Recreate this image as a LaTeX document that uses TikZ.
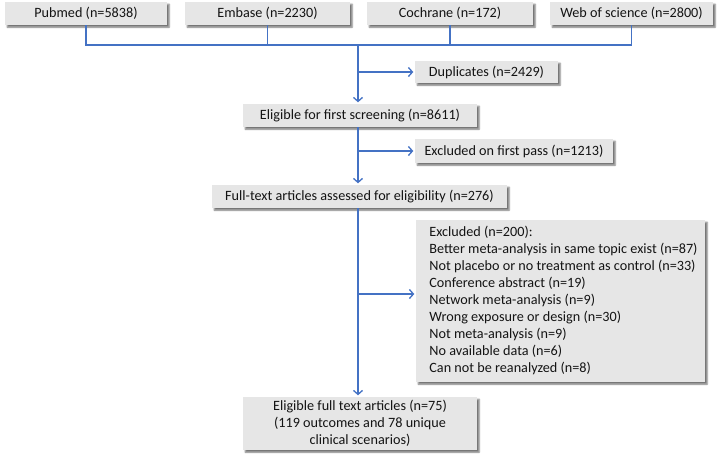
\documentclass[tikz,border=0pt]{standalone}
\usepackage{fontspec}
\setmainfont{Carlito}
\usetikzlibrary{arrows.meta,shadows.blur}
\definecolor{boxgray}{HTML}{E6E6E6}
\definecolor{arrowblue}{HTML}{4472C4}
\definecolor{txt}{HTML}{141414}
\begin{document}
\begin{tikzpicture}[x=1pt,y=-1pt,
  box/.style={fill=boxgray, text=txt, inner sep=0pt,
    blur shadow={shadow xshift=2.2pt, shadow yshift=-2.2pt, shadow blur radius=1.5pt, shadow opacity=55},
    font=\fontsize{14.2}{17}\selectfont, anchor=center},
  conn/.style={draw=arrowblue, line width=1.3pt},
  arr/.style={conn, -{Straight Barb[length=4pt,width=9pt]}, shorten >=1.5pt}]
\useasboundingbox (0,0) rectangle (720,456);

\node[box, minimum width=162pt, minimum height=23pt] (pub) at (86,13.5) {Pubmed (n=5838)};
\node[box, minimum width=165pt, minimum height=23pt] (emb) at (267.5,13.5) {Embase (n=2230)};
\node[box, minimum width=166pt, minimum height=23pt] (coch) at (450,13.5) {Cochrane (n=172)};
\node[box, minimum width=163pt, minimum height=23pt] (wos) at (631.5,13.5) {Web of science (n=2800)};

\node[box, minimum width=143pt, minimum height=22pt] (dup) at (486.5,72) {Duplicates (n=2429)};
\node[box, minimum width=234pt, minimum height=23pt] (elig) at (360,115.5) {Eligible for first screening (n=8611)};
\node[box, minimum width=198pt, minimum height=24pt] (exc1) at (514,151) {Excluded on first pass (n=1213)};
\node[box, minimum width=295pt, minimum height=23pt] (ft) at (359.5,196.5) {Full-text articles assessed for eligibility (n=276)};
\node[box, minimum width=289pt, minimum height=162pt] (exc2) at (560.5,301) {\begin{tabular}{@{\hspace{6pt}}l@{}}Excluded (n=200):\\
Better meta-analysis in same topic exist (n=87)\\
Not placebo or no treatment as control (n=33)\\
Conference abstract (n=19)\\
Network meta-analysis (n=9)\\
Wrong exposure or design (n=30)\\
Not meta-analysis (n=9)\\
No available data (n=6)\\
Can not be reanalyzed (n=8)\end{tabular}};
\node[box, minimum width=234pt, minimum height=53pt, align=center] (fin) at (360,423.5) {Eligible full text articles (n=75)\\(119 outcomes and 78 unique\\clinical scenarios)};

\coordinate (t0) at (358,45);
\coordinate (b3) at (358,294);
\draw[conn] (pub.south) -- (pub.south |- t0) -- (wos.south |- t0) -- (wos.south);
\draw[conn] (emb.south) -- (emb.south |- t0);
\draw[conn] (coch.south) -- (coch.south |- t0);
\draw[arr] (t0) -- (t0 |- elig.north);
\draw[arr] (t0 |- dup.west) -- (dup.west);
\draw[arr] (elig.south -| t0) -- (ft.north -| t0);
\draw[arr] (t0 |- exc1.west) -- (exc1.west);
\draw[arr] (ft.south -| t0) -- (fin.north -| t0);
\draw[arr] (b3) -- (b3 -| exc2.west);
\end{tikzpicture}
\end{document}
